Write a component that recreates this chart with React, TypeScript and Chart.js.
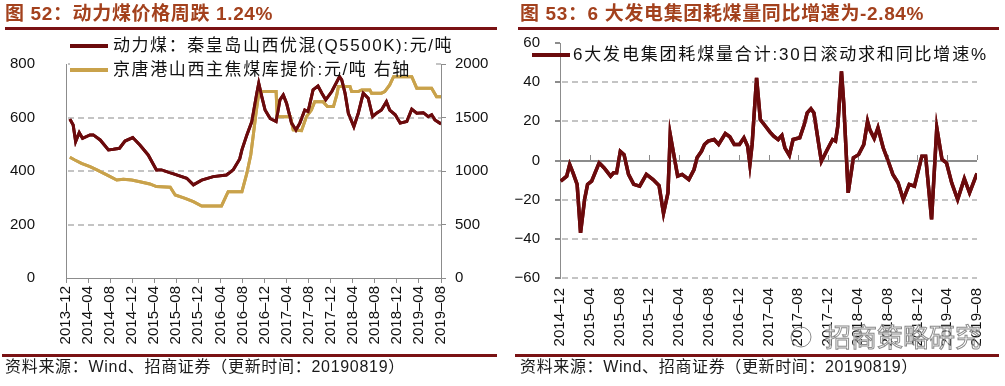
import { useEffect, useRef } from "react";
import { Chart, registerables } from "chart.js";
Chart.register(...registerables);

// ---------------- data ----------------
const leftTickLabels = [
  "2013–12", "2014–04", "2014–08", "2014–12", "2015–04", "2015–08", "2015–12", "2016–04", "2016–08",
  "2016–12", "2017–04", "2017–08", "2017–12", "2018–04", "2018–08", "2018–12", "2019–04", "2019–08",
];
const rightTickLabels = [
  "2014–12", "2015–04", "2015–08", "2015–12", "2016–04", "2016–08", "2016–12", "2017–04",
  "2017–08", "2017–12", "2018–04", "2018–08", "2018–12", "2019–04", "2019–08",
];
const leftAxisTicks = [0, 200, 400, 600, 800];
const rightAxisTicks = [-60, -40, -20, 0, 20, 40, 60];

const coalLabel = "动力煤：秦皇岛山西优混(Q5500K):元/吨";
const cokeLabel = "京唐港山西主焦煤库提价:元/吨 右轴";
const growthLabel = "6大发电集团耗煤量合计:30日滚动求和同比增速%";

// months since 2013-12
const coalMonths = [
  0.7, 1.3, 1.75, 2.4, 3.0, 4.35, 4.95, 6.2, 7.7, 8.6, 9.7, 10.7, 12.1, 13.4, 14.9, 16.4, 17.3, 19.5, 21.9,
  23.1, 24.6, 26.7, 29.1, 30.3, 31.5, 31.9, 32.8, 33.7, 34.6, 34.95, 35.5, 36.1, 37.0, 38.1, 38.8, 39.4, 40.0,
  40.9, 41.7, 42.4, 43.3, 43.9, 44.8, 45.7, 46.4, 47.1, 48.2, 49.6, 50.0, 50.6, 51.2, 52.2, 53.0, 53.9, 54.8,
  55.6, 56.3, 57.2, 58.1, 58.7, 59.7, 60.6, 61.8, 62.7, 63.6, 64.8, 65.7, 66.3, 66.9, 68.0,
];
const coalPrices = [
  594, 572, 510, 543, 522, 535, 535, 516, 479, 481, 485, 512, 525, 497, 460, 404, 404, 389, 373,
  348, 366, 379, 385, 404, 445, 479, 535, 585, 691, 728, 678, 628, 597, 585, 666, 684, 653,
  579, 553, 579, 628, 622, 703, 718, 691, 666, 697, 753, 741, 691, 616, 566, 616, 691, 672,
  603, 616, 628, 659, 628, 610, 579, 585, 631, 616, 618, 603, 610, 591, 576,
];

const cokeMonths = [
  0.7, 1.6, 2.8, 4.35, 5.6, 7.4, 9.2, 10.4, 11.9, 13.4, 15.2, 16.4, 18.9, 19.8, 21.6, 23.1, 24.6, 28.2, 29.4,
  31.9, 32.8, 33.5, 34.0, 34.5, 35.0, 38.1, 38.3, 40.7, 41.2, 42.7, 43.6, 44.5, 45.1, 46.6, 47.4, 48.5, 49.1,
  49.4, 51.5, 51.8, 53.0, 53.6, 55.1, 55.4, 57.2, 57.8, 58.7, 59.4, 62.7, 63.6, 66.3, 67.2, 68.0,
];
const cokePrices = [
  1128, 1103, 1072, 1041, 1010, 963, 916, 923, 916, 900, 879, 854, 848, 776, 745, 713, 673, 673, 807,
  807, 979, 1150, 1350, 1560, 1742, 1742, 1508, 1508, 1384, 1377, 1508, 1571, 1648, 1648, 1602, 1602, 1711,
  1789, 1789, 1742, 1742, 1758, 1758, 1727, 1727, 1742, 1805, 1882, 1882, 1774, 1774, 1695, 1695,
];

// months since 2014-12
const growthMonths = [
  0.1, 0.9, 1.3, 1.75, 2.3, 2.76, 3.3, 3.7, 4.25, 5.26, 5.9, 6.8, 7.2, 7.6, 8.1, 8.6, 9.2, 9.9, 10.7, 11.6,
  12.5, 13.3, 13.9, 14.5, 14.8, 15.4, 15.8, 16.4, 17.3, 18.0, 18.4, 19.0, 19.4, 19.9, 20.7, 21.3, 22.2, 22.8,
  23.4, 24.1, 24.7, 25.2, 25.5, 25.8, 26.4, 26.9, 27.6, 28.2, 28.7, 29.3, 29.8, 30.2, 30.8, 31.3, 32.2, 32.8,
  33.2, 33.7, 34.1, 35.1, 35.9, 36.6, 37.0, 37.3, 37.8, 38.1, 38.7, 39.4, 40.1, 40.8, 41.3, 41.6, 42.2, 42.7,
  43.4, 44.0, 44.7, 45.4, 46.1, 46.9, 47.6, 48.6, 49.1, 49.9, 50.6, 51.3, 51.9, 52.6, 53.4, 54.3, 55.0, 56.0,
];
const growthValues = [
  -10.5, -8, -2, -6.3, -12.2, -36.9, -19.9, -12.2, -10.5, -1.2, -3.7, -8, -6.3, -6.3, 4.7, 3, -7.1, -12.2, -13.1, -7.1,
  -9.7, -12.8, -27, -16.5, 13.3, 0.5, -8, -7.1, -9.7, -4.6, 1.4, 4.7, 8.2, 9.9, 10.7, 8.2, 13.8, 12.1,
  8.2, 8.2, 11.6, 7.3, -2, 8.2, 42.2, 20.9, 17.5, 14.5, 12.4, 10.7, 12.8, 6.5, 2.6, 10.7, 11.6, 18.4,
  24.3, 26.4, 24.3, -0.4, 5.6, 10.7, 9.9, 17.5, 45.5, 29.4, -16.5, 1.4, 3, 8.2, 20, 15.8, 11.2, 16.7,
  6.5, 0.5, -7.1, -11.4, -19.9, -12.2, -13.1, 2.2, 2.2, -30.1, 16.7, 0.5, -1.2, -11.4, -19.9, -9.3, -16.5, -6.6,
];

// ---------------- styles ----------------
const RED = "#6B0A0C";
const GOLD = "#C9A24B";
const TITLE = "#A3411D";
const RULE = "#7A1214";
const AXIS = "#8C8C8C";
const GRID = "#C4C4C4";
const TXT = "#111111";
const MIX = "'Liberation Sans', 'Noto Sans CJK SC', sans-serif";

function fitText(ctx: CanvasRenderingContext2D, text: string, x: number, y: number, targetW: number) {
  const c: any = ctx;
  c.letterSpacing = "0px";
  const w = ctx.measureText(text).width;
  const n = Array.from(text).length;
  const ls = n > 0 ? (targetW - w) / n : 0;
  c.letterSpacing = ls.toFixed(2) + "px";
  ctx.fillText(text, x, y);
  c.letterSpacing = "0px";
}

function dashRow(ctx: CanvasRenderingContext2D, x0: number, x1: number, y: number, h: number) {
  for (let x = x0; x < x1; x += 10) {
    ctx.fillRect(x, y, Math.min(6, x1 - x), h);
  }
}

type Decor = {
  title: string; titleX: number; titleW: number;
  ruleX0: number; ruleX1: number;
  source: string; srcX: number; srcW: number;
  legend: { ds: number; x0: number; x1: number; y: number; tx: number; tw: number }[];
  mask: [number, number, number, number];
  gridAxis: string;
  gridValues: number[];
  leftTicks: boolean;
  zeroLine: boolean;
  watermark?: boolean;
};

function pixelY(s: any, area: any, v: number): number {
  let p = s.getPixelForValue(v);
  if (!Number.isFinite(p)) {
    p = area.bottom - ((v - s.min) / (s.max - s.min)) * (area.bottom - area.top);
  }
  return Math.round(p);
}

function decorPlugin(d: Decor) {
  return {
    id: "decor",
    afterDraw(chart: any) {
      const ctx = chart.ctx as CanvasRenderingContext2D;
      const area = chart.chartArea;
      const s = chart.scales[d.gridAxis];
      const [mx, my, mw, mh] = d.mask;

      ctx.save();
      ctx.globalCompositeOperation = "source-over";
      ctx.globalAlpha = 1;
      ctx.fillStyle = GRID;
      d.gridValues.forEach((v) => {
        if (v === 0) return;
        const y = pixelY(s, area, v) - 1;
        if (y + 2 >= my && y <= my + mh) {
          dashRow(ctx, area.left + 2, mx, y, 2);
          dashRow(ctx, mx + mw, area.right, y, 2);
        } else {
          dashRow(ctx, area.left + 2, area.right, y, 2);
        }
      });
      if (d.leftTicks) {
        ctx.fillStyle = AXIS;
        d.gridValues.forEach((v) => {
          ctx.fillRect(area.left - 5, pixelY(s, area, v) - 1, 5, 2);
        });
      }
      if (d.zeroLine) {
        const xs = chart.scales.x;
        const y0 = pixelY(s, area, 0) - 1;
        ctx.fillStyle = AXIS;
        ctx.fillRect(area.left, y0, area.right - area.left, 2);
        for (let m = xs.min; m <= xs.max + 0.001; m += 4) {
          const x = Math.round(xs.getPixelForValue(m));
          ctx.fillRect(x, y0 - 5, 1, 5);
        }
      }
      ctx.restore();

      // redraw the datasets on top of the grid
      ctx.save();
      ctx.beginPath();
      ctx.rect(area.left, area.top - 10, area.right - area.left, area.bottom - area.top + 10);
      ctx.clip();
      for (let i = chart.data.datasets.length - 1; i >= 0; i--) {
        chart.getDatasetMeta(i).controller.draw();
      }
      ctx.restore();

      ctx.save();
      ctx.fillStyle = TITLE;
      ctx.font = `bold 19px ${MIX}`;
      ctx.textBaseline = "middle";
      ctx.textAlign = "left";
      fitText(ctx, d.title, d.titleX, 15, d.titleW);
      ctx.fillStyle = RULE;
      ctx.fillRect(d.ruleX0, 27, d.ruleX1 - d.ruleX0, 3);
      ctx.fillRect(d.ruleX0 - 3, 354, d.ruleX1 - d.ruleX0 + 3, 3);
      ctx.fillStyle = "#1a1a1a";
      ctx.font = `16px ${MIX}`;
      fitText(ctx, d.source, d.srcX, 368, d.srcW);
      d.legend.forEach((it) => {
        const ds = chart.data.datasets[it.ds];
        ctx.fillStyle = ds.borderColor;
        ctx.fillRect(it.x0, it.y - 2, it.x1 - it.x0, 4);
        ctx.fillStyle = TXT;
        ctx.font = `17px ${MIX}`;
        fitText(ctx, ds.label, it.tx, it.y, it.tw);
      });
      if (d.watermark) {
        ctx.font = `26px 'Noto Sans CJK SC', sans-serif`;
        ctx.lineWidth = 1;
        ctx.strokeStyle = "#8a8a8a";
        ctx.fillStyle = "rgba(255,255,255,0.7)";
        fitText(ctx, "招商策略研究", 320, 337, 152);
        ctx.strokeText("招商策略研究", 320, 337);
        ctx.beginPath();
        ctx.arc(296, 337, 10, 0, Math.PI * 2);
        ctx.stroke();
      }
      ctx.restore();
    },
  };
}

const tickFont = { family: "'Liberation Sans', Arial, sans-serif", size: 15 };

function leftConfig(): any {
  return {
    type: "line",
    data: {
      datasets: [
        {
          label: coalLabel,
          data: coalMonths.map((m, i) => ({ x: m, y: coalPrices[i] })),
          borderColor: RED, borderWidth: 3, pointRadius: 0, yAxisID: "y", tension: 0, fill: false,
        },
        {
          label: cokeLabel,
          data: cokeMonths.map((m, i) => ({ x: m, y: cokePrices[i] })),
          borderColor: GOLD, borderWidth: 3, pointRadius: 0, yAxisID: "y1", tension: 0, fill: false,
        },
      ],
    },
    options: {
      responsive: false, animation: false,
      layout: { padding: { top: 64, left: 0, right: 5, bottom: 34 } },
      plugins: { legend: { display: false }, tooltip: { enabled: false } },
      scales: {
        x: {
          type: "linear", min: 0, max: 68,
          ticks: {
            stepSize: 4, autoSkip: false, maxRotation: 90, minRotation: 90, padding: 3,
            font: tickFont, color: TXT,
            callback: (v: number) => leftTickLabels[Math.round(v / 4)],
          },
          grid: { drawOnChartArea: false, drawTicks: true, tickLength: 5, color: AXIS },
          border: { color: AXIS },
          afterFit: (s: any) => { s.height = 74; },
        },
        y: {
          position: "left", min: 0, max: 800,
          ticks: { stepSize: 200, padding: 23, font: tickFont, color: TXT, callback: (v: number) => String(v) },
          grid: { display: false },
          border: { color: AXIS },
          afterFit: (s: any) => { s.width = 66; },
        },
        y1: {
          position: "right", min: 0, max: 2000,
          ticks: { stepSize: 500, padding: 9, font: tickFont, color: TXT, callback: (v: number) => String(v) },
          grid: { drawOnChartArea: false, drawTicks: true, tickLength: 5, color: AXIS },
          border: { color: AXIS },
          afterFit: (s: any) => { s.width = 59; },
        },
      },
    },
    plugins: [
      decorPlugin({
        title: "图 52：动力煤价格周跌 1.24%", titleX: 5, titleW: 268,
        ruleX0: 5, ruleX1: 497,
        source: "资料来源：Wind、招商证券（更新时间：20190819）", srcX: 5, srcW: 400,
        legend: [
          { ds: 0, x0: 70, x1: 108, y: 46, tx: 113, tw: 340 },
          { ds: 1, x0: 70, x1: 108, y: 70, tx: 113, tw: 298 },
        ],
        mask: [70, 58, 366, 24],
        gridAxis: "y", gridValues: leftAxisTicks, leftTicks: false, zeroLine: false,
      }),
    ],
  };
}

function rightConfig(): any {
  return {
    type: "line",
    data: {
      datasets: [
        {
          label: growthLabel,
          data: growthMonths.map((m, i) => ({ x: m, y: growthValues[i] })),
          borderColor: RED, borderWidth: 3.5, pointRadius: 0, tension: 0, fill: false,
        },
      ],
    },
    options: {
      responsive: false, animation: false,
      layout: { padding: { top: 43, left: 0, right: 19, bottom: 34 } },
      plugins: { legend: { display: false }, tooltip: { enabled: false } },
      scales: {
        x: {
          type: "linear", min: 0, max: 56,
          ticks: {
            stepSize: 4, autoSkip: false, maxRotation: 90, minRotation: 90, padding: 10,
            font: tickFont, color: TXT,
            callback: (v: number) => rightTickLabels[Math.round(v / 4)],
          },
          grid: { display: false, drawOnChartArea: false, drawTicks: false },
          border: { display: false },
          afterFit: (s: any) => { s.height = 74; },
        },
        y: {
          position: "left", min: -60, max: 60,
          ticks: {
            stepSize: 20, padding: 12, font: tickFont, color: TXT,
            callback: (v: number) => (v < 0 ? "−" + Math.abs(v) : String(v)),
          },
          grid: { display: false },
          border: { color: AXIS },
          afterFit: (s: any) => { s.width = 55; },
        },
      },
    },
    plugins: [
      decorPlugin({
        title: "图 53：6 大发电集团耗煤量同比增速为-2.84%", titleX: 15, titleW: 404,
        ruleX0: 13, ruleX1: 494,
        source: "资料来源：Wind、招商证券（更新时间：20190819）", srcX: 15, srcW: 398,
        legend: [{ ds: 0, x0: 27, x1: 65, y: 55, tx: 68, tw: 415 }],
        mask: [57, 37, 424, 28],
        gridAxis: "y", gridValues: rightAxisTicks, leftTicks: true, zeroLine: true,
        watermark: true,
      }),
    ],
  };
}

function Panel({ make, left, width }: { make: () => any; left: number; width: number }) {
  const ref = useRef<HTMLCanvasElement | null>(null);
  useEffect(() => {
    if (!ref.current) return;
    const chart = new Chart(ref.current, make());
    return () => chart.destroy();
  }, []);
  return (
    <canvas
      ref={ref}
      width={width}
      height={386}
      style={{ position: "absolute", left, top: 0, width, height: 386 }}
    />
  );
}

export default function App() {
  return (
    <div
      style={{
        position: "fixed", left: 0, top: 0, width: 1005, height: 386,
        background: "#ffffff", overflow: "hidden",
      }}
    >
      <Panel make={leftConfig} left={0} width={505} />
      <Panel make={rightConfig} left={505} width={500} />
    </div>
  );
}
